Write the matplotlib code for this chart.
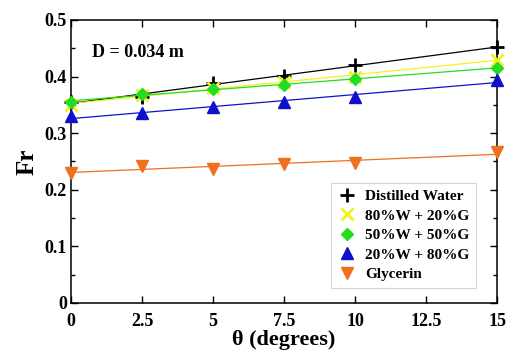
import numpy as np
import matplotlib
matplotlib.use("Agg")
from matplotlib import pyplot as plt

plt.rcParams['font.family'] = ['Liberation Serif', 'DejaVu Serif']
plt.rcParams['font.weight'] = 'bold'

# data
theta = [0, 2.5, 5, 7.5, 10, 15]
fr_water = [0.355, 0.364, 0.389, 0.401, 0.420, 0.452]
fr_80w = [0.350, 0.368, 0.380, 0.390, 0.400, 0.430]
fr_50w = [0.355, 0.369, 0.378, 0.385, 0.396, 0.415]
fr_20w = [0.330, 0.335, 0.346, 0.355, 0.364, 0.394]
fr_gly = [0.230, 0.242, 0.237, 0.246, 0.248, 0.266]

labels = ["Distilled Water", "80%W + 20%G", "50%W + 50%G", "20%W + 80%G", "Glycerin"]
series = [fr_water, fr_80w, fr_50w, fr_20w, fr_gly]
colors = ["black", "#f2f21a", "#22dd22", "#1010cc", "#f07020"]
markers = ["+", "x", "D", "^", "v"]
msizes = [10, 8, 6, 8, 8]

fig = plt.figure(figsize=(5.14, 3.56), dpi=100)
ax = fig.add_axes([0.138, 0.149, 0.829, 0.795])

x = np.array(theta)
for ys, lab, c, m, ms in zip(series, labels, colors, markers, msizes):
    ax.plot(x, ys, linestyle="none", marker=m, color=c, markersize=ms,
            markeredgewidth=2 if m in "+x" else 1, label=lab, zorder=3,
            clip_on=False)
    # linear trend line
    p = np.polyfit(x, ys, 1)
    xl = np.array([0, 15])
    ax.plot(xl, np.polyval(p, xl), color=c, lw=0.9, zorder=2)

ax.set_xlim(0, 15)
ax.set_ylim(0, 0.5)
ax.set_xticks([0, 2.5, 5, 7.5, 10, 12.5, 15])
ax.set_xticklabels(["0", "2.5", "5", "7.5", "10", "12.5", "15"])
ax.set_yticks([0, 0.1, 0.2, 0.3, 0.4, 0.5])
ax.set_yticklabels(["0", "0.1", "0.2", "0.3", "0.4", "0.5"])
ax.set_yticks(np.arange(0.05, 0.5, 0.1), minor=True)
ax.tick_params(which="both", direction="in", top=True, right=True, labelsize=13)
ax.tick_params(axis="x", pad=7)
ax.tick_params(axis="y", pad=3)
ax.tick_params(which="major", length=5, width=1)
ax.tick_params(which="minor", length=3, width=1)
for s in ax.spines.values():
    s.set_linewidth(1.1)

ax.set_xlabel("θ (degrees)", fontsize=16, fontweight="bold", labelpad=0)
ax.set_ylabel("Fr", fontsize=18, fontweight="bold", labelpad=4)
ax.text(0.05, 0.87, "D = 0.034 m", transform=ax.transAxes, fontsize=13, fontweight="bold")

leg = ax.legend(loc="lower right", bbox_to_anchor=(0.951, 0.053), borderaxespad=0,
                fontsize=11, frameon=True, fancybox=False, edgecolor="#cccccc",
                handlelength=1.2, handletextpad=0.6, borderpad=0.45, labelspacing=0.38)
leg.get_frame().set_linewidth(0.8)

fig.savefig("out.png", dpi=100)
